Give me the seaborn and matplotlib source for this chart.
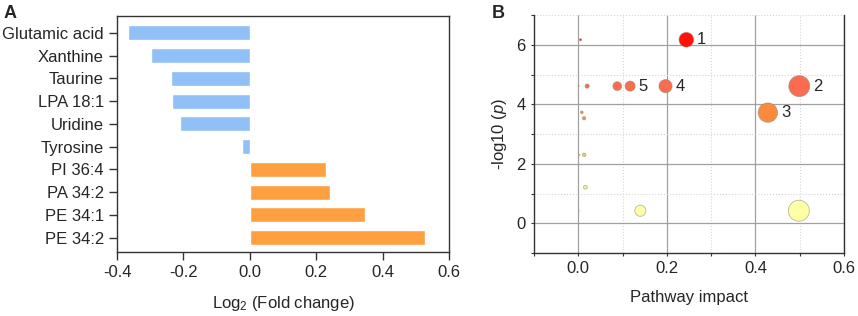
import matplotlib
import matplotlib.pyplot as plt
import matplotlib.ticker as mticker
from matplotlib.colors import LinearSegmentedColormap
import numpy as np
import pandas as pd
import seaborn as sns

sns.set_style("ticks")
plt.rcParams["font.family"] = ["Liberation Sans", "DejaVu Sans"]
plt.rcParams["mathtext.fontset"] = "custom"
plt.rcParams["mathtext.rm"] = "Liberation Sans"
plt.rcParams["mathtext.it"] = "Liberation Sans:italic"
plt.rcParams["axes.unicode_minus"] = False

# panel A data
metabolites = ["Glutamic acid", "Xanthine", "Taurine", "LPA 18:1", "Uridine",
               "Tyrosine", "PI 36:4", "PA 34:2", "PE 34:1", "PE 34:2"]
log2fc = [-0.367, -0.298, -0.238, -0.233, -0.210, -0.024, 0.228, 0.240, 0.346, 0.527]

# panel B data
impact = [0.244, 0.499, 0.428, 0.197, 0.117, 0.088, 0.020, 0.001, 0.005, 0.008,
          0.013, 0.002, 0.0135, 0.016, 0.001, 0.140, 0.498]
neglogp = [6.17, 4.61, 3.72, 4.61, 4.61, 4.61, 4.61, 4.61, 6.17, 3.73,
           3.53, 2.30, 2.30, 1.21, 0.41, 0.42, 0.42]
labels = ["1", "2", "3", "4", "5", "", "", "", "", "", "", "", "", "", "", "", ""]

x_ticks_a = [-0.4, -0.2, 0.0, 0.2, 0.4, 0.6]
x_ticks_b = [0.0, 0.2, 0.4, 0.6]
y_ticks_b = [0, 2, 4, 6]

fig = plt.figure(figsize=(8.58, 3.16), dpi=100)
axA = fig.add_axes([0.1364, 0.2025, 0.387, 0.748])
axB = fig.add_axes([0.6224, 0.1994, 0.3613, 0.753])

# ---- A: fold change bars
dfa = pd.DataFrame({"metabolite": metabolites, "log2fc": log2fc})
dfa["direction"] = np.where(dfa["log2fc"] < 0, "down", "up")
sns.barplot(data=dfa, x="log2fc", y="metabolite", hue="direction",
            palette={"down": "#90c0f6", "up": "#ffa040"}, dodge=False,
            width=0.66, saturation=1, legend=False, ax=axA, orient="h")
axA.set_xlim(-0.4, 0.6)
axA.set_ylim(len(metabolites) - 1 + 0.63, -0.76)
axA.set_xticks(x_ticks_a)
axA.set_xticklabels([f"{v:.1f}" for v in x_ticks_a])
axA.set_xlabel("Log$_2$ (Fold change)", fontsize=12, labelpad=10)
axA.set_ylabel("")
axA.tick_params(axis="both", labelsize=12, length=6, width=1, color="#333333", direction="out")
for s in axA.spines.values():
    s.set_visible(True)
    s.set_color("#333333")
    s.set_linewidth(1)

# ---- B: pathway bubbles
dfb = pd.DataFrame({"impact": impact, "neglogp": neglogp, "label": labels})
cmap = LinearSegmentedColormap.from_list(
    "heat", [(0.0, "#ffffa8"), (0.137, "#f5f09c"), (0.33, "#ecd050"),
             (0.574, "#fb8a40"), (0.73, "#fb6b50"), (1.0, "#ff1208")])
smax = (21 * 0.72) ** 2
sns.scatterplot(data=dfb, x="impact", y="neglogp", hue="neglogp", palette=cmap,
                hue_norm=(0.41, 6.17), size="impact", sizes=(0, smax),
                size_norm=(0, 0.5), edgecolor=(0.55, 0.55, 0.45, 0.6),
                linewidth=0.6, legend=False, ax=axB, zorder=3)
for _, r in dfb.iterrows():
    if r["label"]:
        rad = np.sqrt(r["impact"] / 0.5 * smax) / 2
        axB.annotate(r["label"], (r["impact"], r["neglogp"]), xytext=(rad + 2.5, 0),
                     textcoords="offset points", va="center", ha="left", fontsize=12)

axB.set_xlim(-0.1, 0.6)
axB.set_ylim(-1, 7)
axB.set_xticks(x_ticks_b)
axB.set_xticklabels([f"{v:.1f}" for v in x_ticks_b])
axB.set_yticks(y_ticks_b)
axB.xaxis.set_minor_locator(mticker.MultipleLocator(0.1))
axB.yaxis.set_minor_locator(mticker.MultipleLocator(1))
axB.set_axisbelow(True)
axB.grid(which="major", color="#a0a0a0", linewidth=0.9)
axB.grid(which="minor", color="#d4d4d4", linestyle=":", linewidth=0.8)
axB.set_xlabel("Pathway impact", fontsize=12, labelpad=10)
axB.set_ylabel("-log10 ($\\mathit{p}$)", fontsize=12, labelpad=5)
axB.tick_params(axis="both", which="both", labelsize=12, length=2.5, width=0.8,
                color="#333333", direction="out")
axB.spines["top"].set_visible(False)
for k in ["left", "bottom", "right"]:
    axB.spines[k].set_visible(True)
    axB.spines[k].set_color("#333333")
    axB.spines[k].set_linewidth(1)

fig.text(0.004, 0.985, "A", fontsize=13, fontweight="bold", va="top", ha="left")
fig.text(0.573, 0.985, "B", fontsize=13, fontweight="bold", va="top", ha="left")

fig.savefig("out.png", dpi=100)
